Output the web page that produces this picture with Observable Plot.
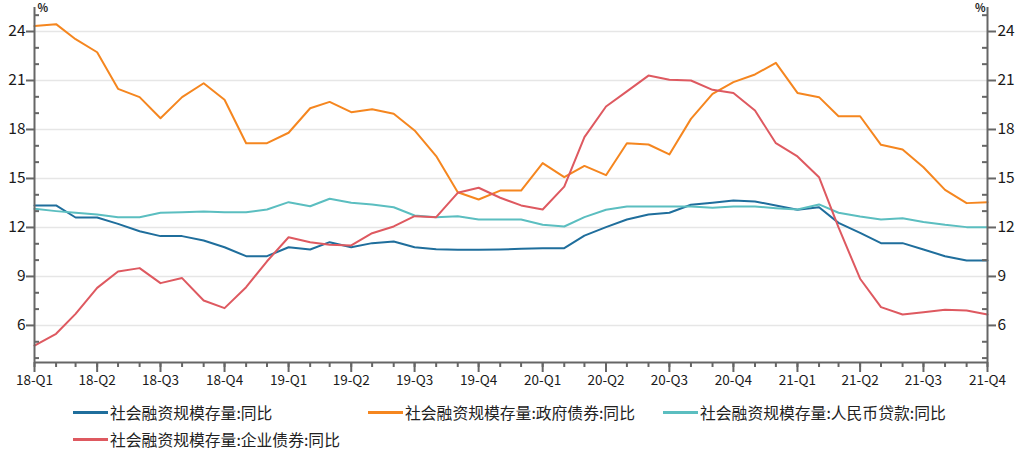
<!DOCTYPE html>
<html><head><meta charset="utf-8">
<script src="https://cdn.jsdelivr.net/npm/d3@7"></script>
<script src="https://cdn.jsdelivr.net/npm/@observablehq/plot@0.6"></script>
<style>
body{margin:0;background:#fff;font-family:"Noto Sans CJK SC","Noto Sans",sans-serif;}
#chart{position:relative;width:1027px;height:451px;overflow:hidden;}
.legend{position:absolute;left:73px;top:400px;display:grid;grid-template-columns:295px 295px 295px;row-gap:2px;font-size:15.8px;color:#222}
.item{display:flex;align-items:center;height:25px;white-space:nowrap}
.sw{width:35px;height:2.5px;margin-right:2px;flex:none}
</style></head><body><div id="chart"></div>
<script>
const quarterLabels = ["18-Q1","18-Q2","18-Q3","18-Q4","19-Q1","19-Q2","19-Q3","19-Q4","20-Q1","20-Q2","20-Q3","20-Q4","21-Q1","21-Q2","21-Q3","21-Q4"];
const seriesNames = ["社会融资规模存量:同比","社会融资规模存量:政府债券:同比","社会融资规模存量:人民币贷款:同比","社会融资规模存量:企业债券:同比"];
const colors = ["#1f6e9c","#f5861f","#5bbec0","#de5960"];
const total = [13.35,13.35,12.61,12.61,12.22,11.77,11.47,11.47,11.2,10.79,10.24,10.24,10.79,10.65,11.1,10.79,11.04,11.14,10.79,10.67,10.63,10.63,10.65,10.69,10.73,10.73,11.5,12.02,12.49,12.79,12.9,13.39,13.51,13.65,13.59,13.35,13.08,13.24,12.28,11.67,11.04,11.04,10.65,10.24,9.98,9.98];
const govBonds = [24.33,24.45,23.53,22.73,20.49,19.98,18.69,19.98,20.83,19.82,17.16,17.16,17.8,19.3,19.69,19.06,19.24,18.96,17.94,16.37,14.16,13.71,14.26,14.26,15.94,15.08,15.77,15.2,17.16,17.08,16.47,18.65,20.18,20.9,21.37,22.08,20.24,19.98,18.81,18.81,17.06,16.77,15.69,14.3,13.49,13.55];
const rmbLoans = [13.14,13.0,12.9,12.79,12.63,12.63,12.9,12.93,12.98,12.93,12.93,13.1,13.55,13.3,13.76,13.51,13.41,13.24,12.73,12.63,12.69,12.49,12.49,12.49,12.16,12.06,12.63,13.08,13.28,13.28,13.28,13.28,13.2,13.28,13.28,13.18,13.1,13.41,12.9,12.67,12.49,12.57,12.33,12.16,12.02,12.02];
const corpBonds = [4.77,5.49,6.71,8.3,9.3,9.51,8.59,8.9,7.53,7.06,8.34,9.93,11.4,11.1,10.94,10.9,11.65,12.06,12.69,12.63,14.12,14.43,13.82,13.35,13.1,14.5,17.53,19.41,20.33,21.3,21.04,21.0,20.43,20.24,19.16,17.16,16.35,15.08,12.0,8.86,7.12,6.67,6.81,6.96,6.92,6.67];
const yMajorTicks = [6,9,12,15,18,21,24];
const yMinorTicks = [4,5,7,8,10,11,13,14,16,17,19,20,22,23,25];
const yDomain = [3.73, 25.47];

const x0 = new Date(Date.UTC(2018,0,1)), x1 = new Date(Date.UTC(2021,9,1));
const months = d3.utcMonth.range(x0, d3.utcMonth.offset(x1,1));
const quarters = months.filter(d => d.getUTCMonth() % 3 === 0);
const fmtQ = d => quarterLabels[quarters.findIndex(q => +q === +d)];
const allSeries = [total, govBonds, rmbLoans, corpBonds];
const rows = [];
allSeries.forEach((arr, s) => arr.forEach((v, i) => rows.push({date: months[i], value: v, series: seriesNames[s]})));

const W=1027,H=402,ML=34,MR=40,MT=7,MB=40, PW=W-ML-MR, AX="#666";
const plot = Plot.plot({
  width: W, height: H, marginLeft: ML, marginRight: MR, marginTop: MT, marginBottom: MB,
  style: {fontFamily: '"Noto Sans CJK SC","Noto Sans",sans-serif', background: "#fff", overflow: "visible", color: "#222"},
  x: {type: "utc", domain: [x0, x1]},
  y: {domain: yDomain},
  color: {domain: seriesNames, range: colors},
  marks: [
    Plot.gridY(yMajorTicks, {stroke: "#e6e6e6", strokeOpacity: 1, strokeWidth: 1.5}),
    Plot.line(rows, {x: "date", y: "value", stroke: "series", z: "series", strokeWidth: 2}),
    Plot.ruleX([x0, x1], {stroke: AX, strokeWidth: 2}),
    Plot.ruleY([yDomain[0]], {stroke: AX, strokeWidth: 2}),
    Plot.axisY(yMajorTicks, {anchor: "left", tickSize: 8, tickPadding: 1, fontSize: 15.5, stroke: AX, strokeWidth: 2, fill: "#1a1a1a", label: null}),
    Plot.axisY(yMajorTicks, {anchor: "right", tickSize: 8, tickPadding: 2, fontSize: 15.5, stroke: AX, strokeWidth: 2, fill: "#1a1a1a", label: null}),
    Plot.tickY(yMinorTicks, {y: d => d, insetRight: PW - 5, stroke: AX, strokeWidth: 2}),
    Plot.tickY(yMinorTicks, {y: d => d, insetLeft: PW - 5, stroke: AX, strokeWidth: 2}),
    Plot.axisX(quarters, {tickSize: 10, tickPadding: 3, fontSize: 13.5, tickFormat: fmtQ, stroke: AX, strokeWidth: 2, fill: "#1a1a1a", label: null}),
    Plot.axisX(months, {tickSize: 5, fill: "none", stroke: AX, strokeWidth: 2, label: null}),
    Plot.text(["%"], {text: d => d, frameAnchor: "top-left", textAnchor: "start", lineAnchor: "middle", dx: 3, dy: 1, fontSize: 11, fontWeight: "bold", fill: "#222"}),
    Plot.text(["%"], {text: d => d, frameAnchor: "top-right", textAnchor: "end", lineAnchor: "middle", dx: -2, dy: 1, fontSize: 11, fontWeight: "bold", fill: "#222"})
  ]
});
const chart = document.getElementById("chart");
chart.appendChild(plot);
const legend = document.createElement("div");
legend.className = "legend";
seriesNames.forEach((n, i) => {
  const it = document.createElement("div"); it.className = "item";
  const sw = document.createElement("span"); sw.className = "sw"; sw.style.background = colors[i];
  const t = document.createElement("span"); t.textContent = n;
  it.appendChild(sw); it.appendChild(t); legend.appendChild(it);
});
chart.appendChild(legend);
</script></body></html>
